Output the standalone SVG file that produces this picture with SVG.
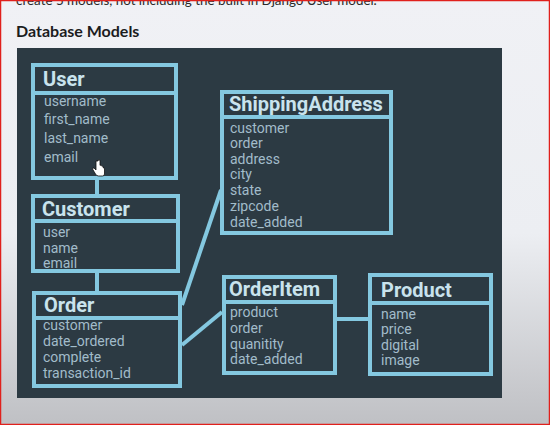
<svg xmlns="http://www.w3.org/2000/svg" width="550" height="425" viewBox="0 0 550 425">
<style>
.box{fill:#2c3a43;stroke:#84c8e0;stroke-width:4}
.sep{stroke:#84c8e0;stroke-width:4}
.title{font-family:Roboto,"Liberation Sans",sans-serif;font-weight:bold;font-size:20px;fill:#c9e3ed}
.f{font-family:Roboto,"Liberation Sans",sans-serif;font-size:14px;fill:#a2bccA}
.conn{stroke:#84c8e0;stroke-width:4;fill:none}
</style>
<defs>
<linearGradient id="bg" x1="0" y1="0" x2="0" y2="1">
<stop offset="0" stop-color="#f0f1f5"/>
<stop offset="0.55" stop-color="#eceef2"/>
<stop offset="1" stop-color="#bfc0c4"/>
</linearGradient>
</defs>
<rect width="550" height="425" fill="url(#bg)"/>
<text x="16" y="5" font-family="Lato,'Liberation Sans',sans-serif" font-size="13.4" fill="#2a2a2a">create 5 models, not including the built in Django User model.</text>
<text x="16" y="37" font-family="Lato,'Liberation Sans',sans-serif" font-weight="bold" font-size="16" fill="#1b1c1e">Database Models</text>
<rect x="17" y="48" width="485" height="350" fill="#2c3a43"/>

<g id="connectors">
<line class="conn" x1="97" y1="180" x2="97" y2="194"/>
<line class="conn" x1="97" y1="273" x2="97" y2="291"/>
<line class="conn" x1="182" y1="305" x2="221" y2="190"/>
<line class="conn" x1="182" y1="345" x2="222" y2="312"/>
<line class="conn" x1="337" y1="319" x2="368" y2="319"/>
</g>

<g id="user">
<rect class="box" x="33" y="65" width="143" height="113"/>
<line class="sep" x1="33" y1="93" x2="176" y2="93"/>
<text class="title" x="43" y="86">User</text>
<text class="f" x="44" y="106">username</text>
<text class="f" x="44" y="124">first_name</text>
<text class="f" x="44" y="143">last_name</text>
<text class="f" x="44" y="162">email</text>
</g>

<g id="customer">
<rect class="box" x="33" y="196" width="145" height="75"/>
<line class="sep" x1="33" y1="221" x2="178" y2="221"/>
<text class="title" x="42" y="216">Customer</text>
<text class="f" x="43" y="237">user</text>
<text class="f" x="43" y="253">name</text>
<text class="f" x="43" y="268">email</text>
</g>

<g id="order">
<rect class="box" x="34" y="293" width="146" height="93"/>
<line class="sep" x1="34" y1="318" x2="180" y2="318"/>
<text class="title" x="44" y="312">Order</text>
<text class="f" x="43" y="330">customer</text>
<text class="f" x="43" y="346">date_ordered</text>
<text class="f" x="43" y="362">complete</text>
<text class="f" x="43" y="378">transaction_id</text>
</g>

<g id="shippingaddress">
<rect class="box" x="222" y="92" width="169" height="141"/>
<line class="sep" x1="222" y1="117" x2="391" y2="117"/>
<text class="title" x="229" y="111">ShippingAddress</text>
<text class="f" x="230" y="133">customer</text>
<text class="f" x="230" y="148">order</text>
<text class="f" x="230" y="164">address</text>
<text class="f" x="230" y="179">city</text>
<text class="f" x="230" y="195">state</text>
<text class="f" x="230" y="211">zipcode</text>
<text class="f" x="230" y="227">date_added</text>
</g>

<g id="orderitem">
<rect class="box" x="224" y="277" width="111" height="96"/>
<line class="sep" x1="224" y1="302" x2="335" y2="302"/>
<text class="title" x="229" y="296">OrderItem</text>
<text class="f" x="230" y="317">product</text>
<text class="f" x="230" y="333">order</text>
<text class="f" x="230" y="349">quanitity</text>
<text class="f" x="230" y="364">date_added</text>
</g>

<g id="product">
<rect class="box" x="370" y="275" width="121" height="99"/>
<line class="sep" x1="370" y1="303" x2="491" y2="303"/>
<text class="title" x="381" y="297">Product</text>
<text class="f" x="381" y="319">name</text>
<text class="f" x="381" y="334">price</text>
<text class="f" x="381" y="350">digital</text>
<text class="f" x="381" y="365">image</text>
</g>

<path d="M96 161 v9 l-2 -2 q-1.5 -0.5 -1.5 1 l3 5 q1 2 3 2 h4 q2 0 2 -2 v-5 q0 -1.5 -1.5 -1.5 v-0.5 q0 -1.2 -1.4 -1.2 q-0.6 -1 -1.6 -0.5 v-4.3 q0 -1.3 -1 -1.3 q-1 0 -1 1.3 z" fill="#ffffff" stroke="#111" stroke-width="0.8"/>
<rect x="0.5" y="0.5" width="549" height="424" fill="none" stroke="#e0201c" stroke-width="1.5"/>
</svg>
